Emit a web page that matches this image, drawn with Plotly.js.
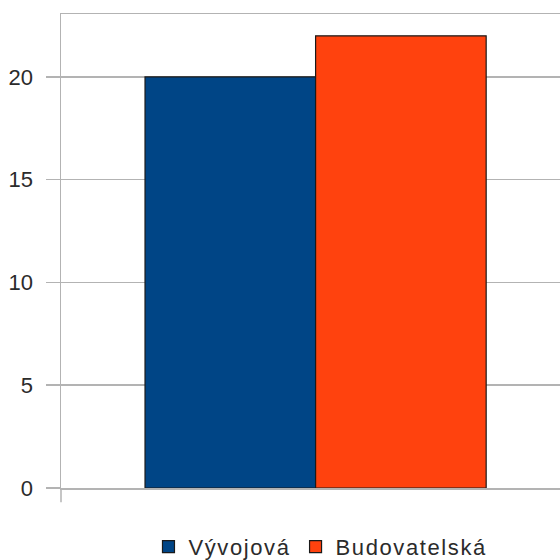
<!DOCTYPE html>
<html><head><meta charset="utf-8">
<script src="https://cdn.plot.ly/plotly-3.0.1.min.js"></script>
<style>html,body{margin:0;padding:0;background:#fff}#c{width:560px;height:560px}
.legendtext{letter-spacing:1.6px}</style>
</head><body><div id="c"></div>
<script>
const categories = [""];
const seriesNames = ["Vývojová", "Budovatelská"];
const seriesValues = [[20], [22]];
const seriesColors = ["#004586", "#ff420e"];
const yTickVals = [0, 5, 10, 15, 20];

const traces = seriesNames.map((n, i) => ({
  type: "bar", name: n, x: categories, y: seriesValues[i],
  marker: {color: seriesColors[i], line: {color: "#1a1a1a", width: 1.2}}
}));

const layout = {
  width: 560, height: 560,
  margin: {l: 61, r: 0, t: 14, b: 72, autoexpand: false},
  paper_bgcolor: "#fff", plot_bgcolor: "#fff",
  font: {family: "Liberation Sans, Arial, sans-serif", color: "#2b2b2b", size: 22},
  barmode: "group", bargap: 0.33, bargroupgap: 0,
  showlegend: true,
  legend: {orientation: "h", x: 0.52, xanchor: "center", y: -0.124, yanchor: "middle",
           font: {size: 22, color: "#2b2b2b"}, itemwidth: 30, traceorder: "normal"},
  xaxis: {type: "category", range: [-0.5, 0.48], showticklabels: false, ticks: "",
          showline: true, mirror: true, linecolor: "#b3b3b3", linewidth: 1.5,
          showgrid: false, zeroline: false, fixedrange: true},
  yaxis: {range: [0, 23.06], tickvals: yTickVals, ticktext: yTickVals.map(String),
          ticks: "outside", ticklen: 14, tickcolor: "#b3b3b3", tickwidth: 1.5,
          ticklabelstandoff: 8, tickfont: {size: 22},
          showline: true, linecolor: "#b3b3b3", linewidth: 1.5,
          showgrid: true, gridcolor: "#b3b3b3", gridwidth: 1.5, zeroline: false},
  shapes: [{type: "line", xref: "paper", yref: "paper", x0: 0, x1: 0, y0: 0, y1: -0.03,
            line: {color: "#b3b3b3", width: 1.5}}]
};
Plotly.newPlot("c", traces, layout, {displayModeBar: false, staticPlot: true});
</script></body></html>
